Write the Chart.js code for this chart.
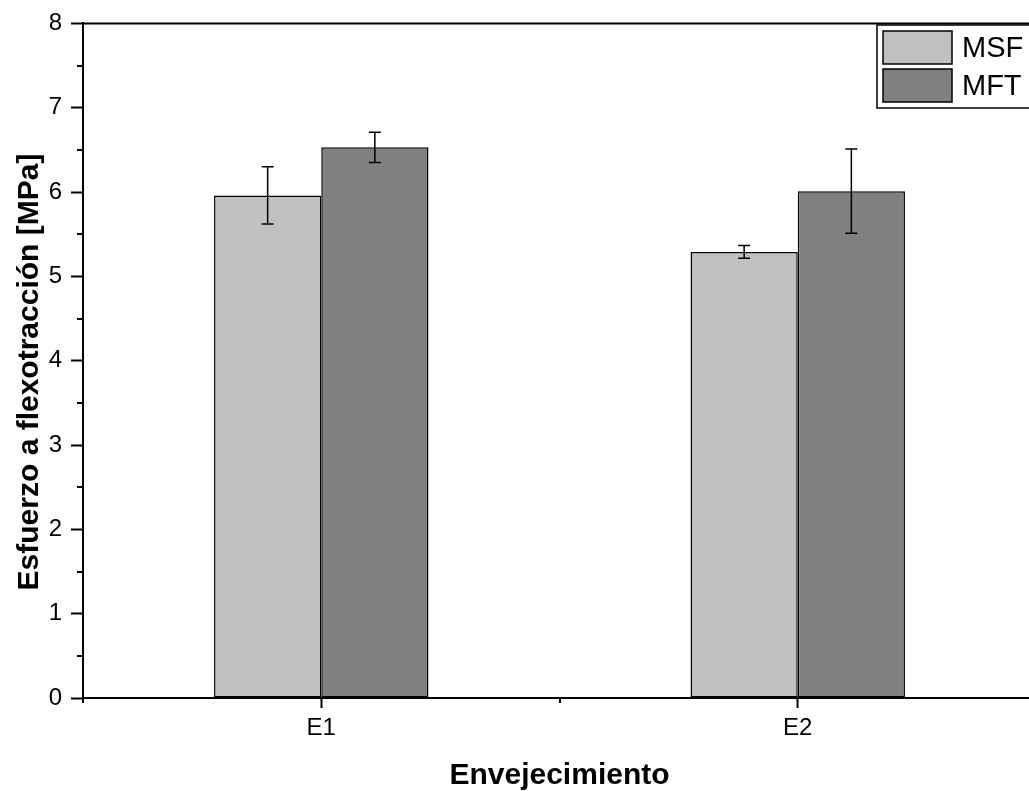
<!DOCTYPE html>
<html>
<head>
<meta charset="utf-8">
<script src="https://cdn.jsdelivr.net/npm/chart.js@4/dist/chart.umd.min.js"></script>
<style>
  html, body { margin: 0; padding: 0; background: #fff; overflow: hidden; }
  #wrap { position: absolute; left: 0; top: 0; width: 1045px; height: 791px; }
</style>
</head>
<body>
<div id="wrap"><canvas id="chart"></canvas></div>
<script>
const categories = ['E1', 'E2'];
const msf = [5.96, 5.29];
const msfErr = [0.34, 0.075];
const mft = [6.53, 6.01];
const mftErr = [0.18, 0.50];
const yTicks = [0, 1, 2, 3, 4, 5, 6, 7, 8];
const yTitle = 'Esfuerzo a flexotracción [MPa]';

const FONT = 'Arial, "Liberation Sans", Helvetica, sans-serif';

// error bars, minor ticks, top frame line, y title and the boxed legend
const extras = {
  id: 'extras',
  afterDatasetsDraw(chart) {
    const ctx = chart.ctx;
    const y = chart.scales.y;
    const x = chart.scales.x;
    const area = chart.chartArea;

    ctx.save();
    ctx.strokeStyle = '#000';
    ctx.lineWidth = 1.5;
    chart.data.datasets.forEach((ds, i) => {
      const meta = chart.getDatasetMeta(i);
      meta.data.forEach((bar, j) => {
        const v = ds.data[j], e = ds.errors[j];
        const top = y.getPixelForValue(v + e);
        const bot = y.getPixelForValue(v - e);
        ctx.beginPath();
        ctx.moveTo(bar.x, top); ctx.lineTo(bar.x, bot);
        ctx.moveTo(bar.x - 6, top); ctx.lineTo(bar.x + 6, top);
        ctx.moveTo(bar.x - 6, bot); ctx.lineTo(bar.x + 6, bot);
        ctx.stroke();
      });
    });

    // minor ticks
    ctx.lineWidth = 2;
    ctx.beginPath();
    for (let k = 0; k < yTicks.length - 1; k++) {
      const py = Math.round(y.getPixelForValue(yTicks[k] + 0.5));
      ctx.moveTo(area.left - 6, py); ctx.lineTo(area.left, py);
    }
    for (let k = -0.5; k <= categories.length - 0.5; k++) {
      const px = Math.round(x.getPixelForValue(k));
      ctx.moveTo(px, area.bottom); ctx.lineTo(px, area.bottom + 5);
    }
    // top and right frame
    ctx.moveTo(area.left, area.top); ctx.lineTo(area.right, area.top);
    ctx.lineTo(area.right, area.bottom);
    ctx.stroke();

    // y title
    ctx.save();
    ctx.translate(30, 372);
    ctx.rotate(-Math.PI / 2);
    ctx.font = 'bold 30px ' + FONT;
    ctx.fillStyle = '#000';
    ctx.textAlign = 'center';
    ctx.textBaseline = 'middle';
    ctx.fillText(yTitle, 0, 0);
    ctx.restore();

    // legend
    const lx = 877, ly = 25, lw = 170, lh = 83;
    ctx.fillStyle = '#fff';
    ctx.fillRect(lx, ly, lw, lh);
    ctx.lineWidth = 1.5;
    ctx.strokeRect(lx, ly, lw, lh);
    ctx.font = '29px ' + FONT;
    ctx.textBaseline = 'middle';
    ctx.textAlign = 'left';
    chart.data.datasets.forEach((ds, i) => {
      const sy = ly + 6 + i * 38;
      ctx.fillStyle = ds.backgroundColor;
      ctx.fillRect(883, sy, 69, 33);
      ctx.strokeRect(883, sy, 69, 33);
      ctx.fillStyle = '#000';
      ctx.fillText(ds.label, 962, sy + 18);
    });
    ctx.restore();
  }
};

new Chart(document.getElementById('chart'), {
  type: 'bar',
  data: {
    labels: categories,
    datasets: [
      { label: 'MSF', data: msf, errors: msfErr, backgroundColor: '#c0c0c0',
        borderColor: '#000', borderWidth: 1.5, borderSkipped: false },
      { label: 'MFT', data: mft, errors: mftErr, backgroundColor: '#808080',
        borderColor: '#000', borderWidth: 1.5, borderSkipped: false }
    ]
  },
  options: {
    responsive: true,
    maintainAspectRatio: false,
    animation: false,
    layout: { padding: { top: 22, right: 9, bottom: 0, left: 0 } },
    datasets: { bar: { categoryPercentage: 0.45, barPercentage: 1 } },
    plugins: { legend: { display: false }, tooltip: { enabled: false } },
    scales: {
      x: {
        grid: { display: true, drawOnChartArea: false, drawTicks: true, offset: false,
                tickLength: 10, tickColor: '#000', tickWidth: 2 },
        border: { display: true, color: '#000', width: 2 },
        ticks: { color: '#000', font: { family: FONT, size: 24 }, padding: 6 },
        title: { display: true, text: 'Envejecimiento', color: '#000',
                 font: { family: FONT, size: 30, weight: 'bold', lineHeight: 1 },
                 padding: { top: 0, bottom: 0 } },
        afterFit(s) { s.height = 93; }
      },
      y: {
        min: 0, max: 8,
        afterBuildTicks(s) { s.ticks = yTicks.map(v => ({ value: v })); },
        grid: { display: true, drawOnChartArea: false, drawTicks: true,
                tickLength: 12, tickColor: '#000', tickWidth: 2 },
        border: { display: true, color: '#000', width: 2 },
        ticks: { color: '#000', font: { family: FONT, size: 24 }, padding: 9 },
        afterFit(s) { s.width = 83; }
      }
    }
  },
  plugins: [extras]
});
</script>
</body>
</html>
